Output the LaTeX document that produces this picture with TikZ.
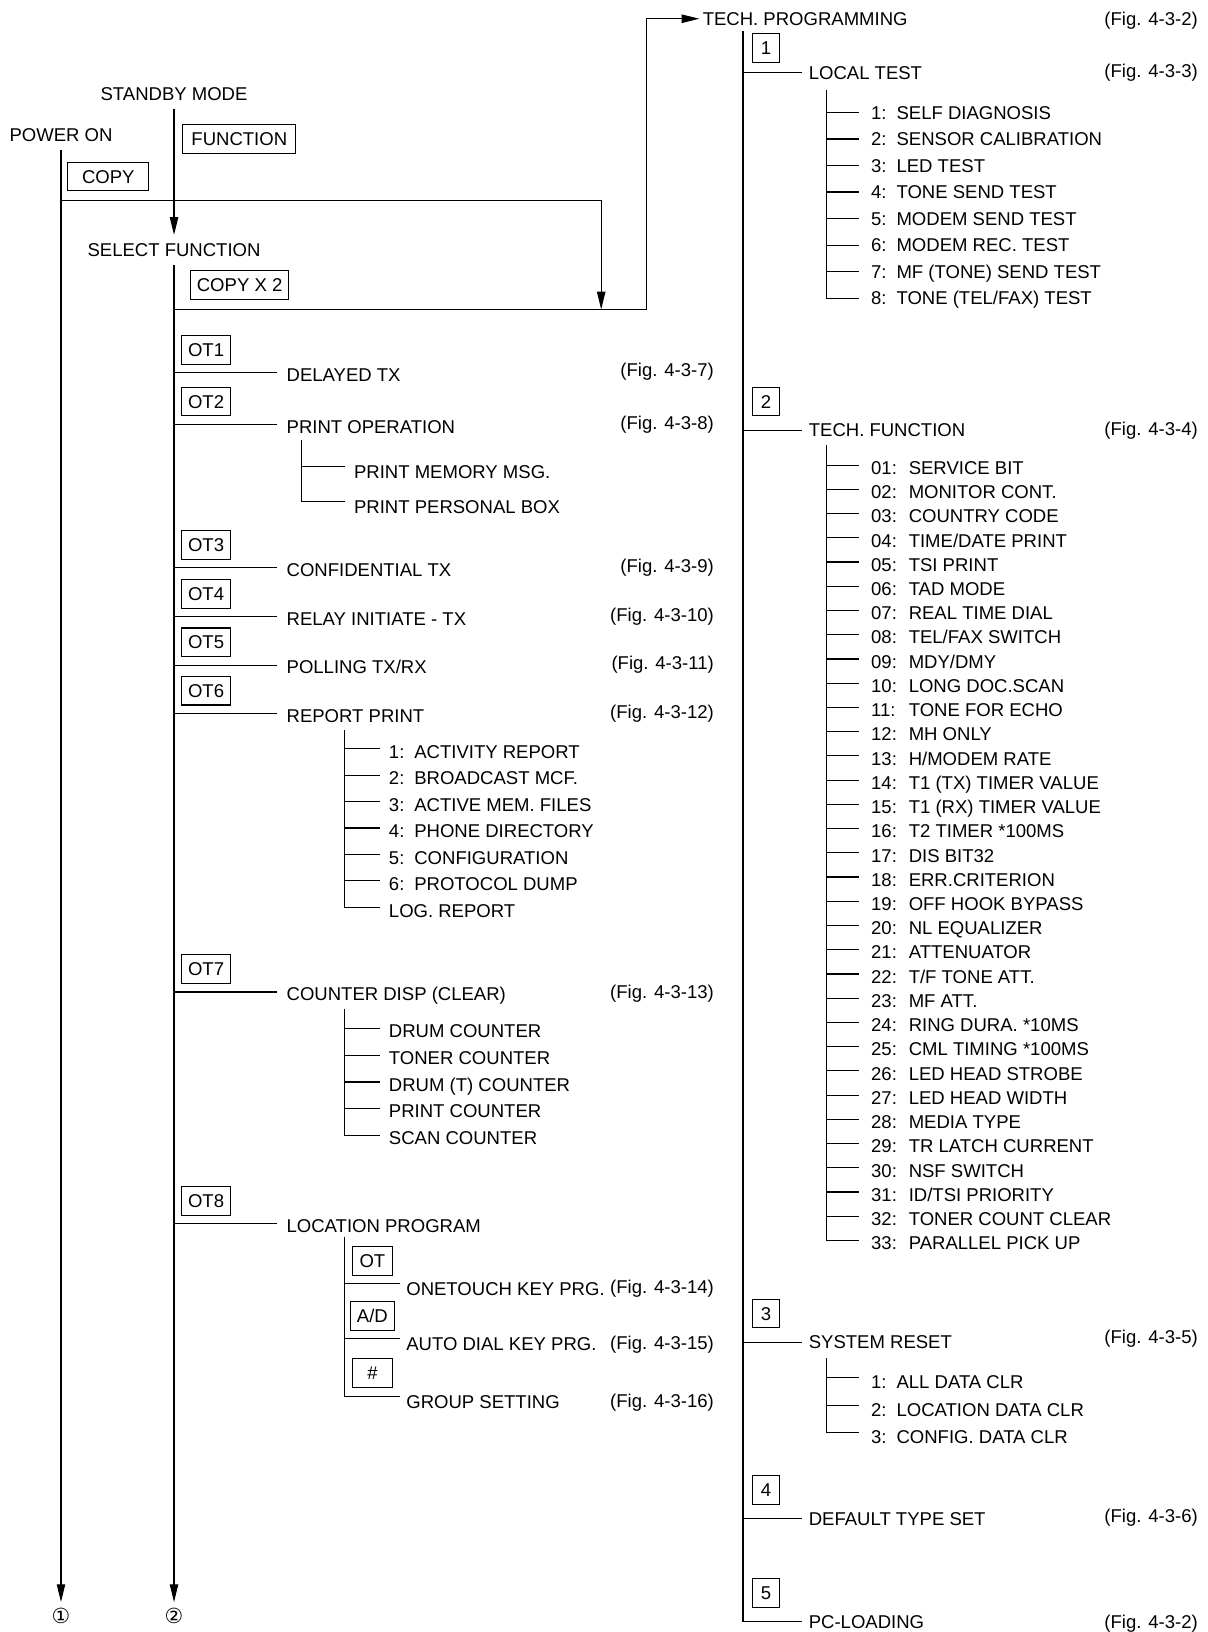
\documentclass[tikz,border=0pt]{standalone}
\usepackage{fontspec}
\setmainfont{Liberation Sans}
\newfontfamily\circfont{DejaVu Sans}
\usetikzlibrary{arrows.meta}

\newcommand{\itemno}[1]{\makebox[1.37em][l]{#1:}}

\tikzset{
  wire/.style={line width=1.1pt},
  arr/.style={line width=1.1pt,-{Triangle[length=17pt,width=8pt]}},
  title/.style={inner xsep=0pt,inner ysep=8pt,text height=12.75pt,text depth=0pt},
  keybox/.style={draw,line width=1pt,minimum height=27.5pt,inner xsep=6pt,inner ysep=0pt,text height=12.75pt,text depth=0pt},
  lbl/.style={anchor=west,inner ysep=0pt,text height=12.75pt,text depth=0pt,inner xsep=#1},
  lbl/.default=6pt,
  leaf/.style={anchor=west,inner ysep=0pt,text height=18pt,text depth=0pt,inner xsep=#1},
  leaf/.default=10pt,
  figref/.style={anchor=east,inner sep=0pt,text height=12.75pt,text depth=0pt},
  endmark/.style={inner sep=0pt,minimum height=26pt,font=\circfont\fontsize{20pt}{20pt}\selectfont},
}

\begin{document}
\begin{tikzpicture}[x=1pt,y=-1pt,font=\fontsize{17.8pt}{20pt}\selectfont]
\useasboundingbox (0,0) rectangle (1160,1568);

% start keys
\node[title] (pwr) at (58.6,129.7) {POWER ON};
\node[title] (stby) at (167.2,90) {STANDBY MODE};
\node[keybox,minimum width=78pt] (copy) at (104.1,169.5) {COPY};
\node[keybox,minimum width=108.6pt] (func) at (229.9,133.6) {FUNCTION};
\node[title] (sel) at (167.2,240.3) {SELECT FUNCTION};
\node[keybox] (copytwo) at (230.2,273.6) {COPY X 2};
\node[endmark] (end1) at (58.6,1552.4) {①};
\node[endmark] (end2) at (167.2,1552.4) {②};
\node[lbl=3pt] (tech) at (672,18) {TECH. PROGRAMMING};
\coordinate (j1) at (58.6,192.9);
\coordinate (j2) at (167.2,297.3);
\coordinate (hit) at (577.6,297.3);
\coordinate (turn) at (620.9,18);

\draw[arr] (pwr) -- (end1);
\draw[arr] (stby) -- (sel);
\draw[arr] (sel) -- (end2);
\draw[arr] (j1) -| (hit);
\draw[arr] (j2) -| (turn) -- (tech);

% technical menu
\coordinate (rbus) at (713.8,30);
\foreach \nm/\y/\d/\txt [count=\i] in {lt/70/24/LOCAL TEST, tf/413.3/27.5/TECH. FUNCTION, sr/1289.5/27.5/SYSTEM RESET, dts/1459.3/27.5/DEFAULT TYPE SET, pcl/1558/27.5/PC-LOADING}{
  \node[lbl=6.4pt] (\nm) at (770.5,\y) {\txt};
  \node[keybox,minimum width=26pt] (key\i) at (736,\y-\d) {\i};
  \draw[wire] (rbus |- \nm.west) -- (\nm.west);
}
\draw[wire] (rbus) -- (rbus |- pcl.west);
\foreach \y/\f [count=\i] in {18/2, 68/3, 412.4/4, 1284/5, 1456/6, 1558/2}
  \node[figref] (rfig\i) at (1151,\y) {(Fig. 4-3-\f)};

\coordinate (ltbus) at (793.8,86.5);
\foreach \txt [count=\i] in {SELF DIAGNOSIS, SENSOR CALIBRATION, LED TEST, TONE SEND TEST, MODEM SEND TEST, MODEM REC. TEST, MF (TONE) SEND TEST, {TONE (TEL/FAX) TEST}}{
  \node[leaf=11.9pt,text height=12.75pt] (lt\i) at (824.9,82.5+25.5*\i) {\itemno{\i}\txt};
  \draw[wire] (ltbus |- lt\i.west) -- (lt\i.west);
}
\draw[wire] (ltbus) -- (ltbus |- lt8.west);

\coordinate (tfbus) at (793.8,427.7);
\foreach \txt [count=\i] in {SERVICE BIT, MONITOR CONT., COUNTRY CODE, {TIME/DATE PRINT}, TSI PRINT, TAD MODE, REAL TIME DIAL, {TEL/FAX SWITCH}, {MDY/DMY}, LONG DOC.SCAN, TONE FOR ECHO, MH ONLY, {H/MODEM RATE}, T1 (TX) TIMER VALUE, T1 (RX) TIMER VALUE, T2 TIMER *100MS, DIS BIT32, ERR.CRITERION, OFF HOOK BYPASS, NL EQUALIZER, ATTENUATOR, {T/F TONE ATT.}, MF ATT., RING DURA. *10MS, CML TIMING *100MS, LED HEAD STROBE, LED HEAD WIDTH, MEDIA TYPE, TR LATCH CURRENT, NSF SWITCH, {ID/TSI PRIORITY}, TONER COUNT CLEAR, PARALLEL PICK UP}{
  \node[leaf=11.9pt,text height=17.75pt] (tf\i) at (824.9,423.62+23.28*\i) {\makebox[2.03em][l]{\ifnum\i<10 0\fi\i:}\txt};
  \draw[wire] (tfbus |- tf\i.west) -- (tf\i.west);
}
\draw[wire] (tfbus) -- (tfbus |- tf33.west);

\coordinate (srbus) at (793.8,1304.8);
\foreach \txt [count=\i] in {ALL DATA CLR, LOCATION DATA CLR, CONFIG. DATA CLR}{
  \node[leaf=11.9pt,text height=21pt] (srl\i) at (824.9,1297.4+26.3*\i) {\itemno{\i}\txt};
  \draw[wire] (srbus |- srl\i.west) -- (srl\i.west);
}
\draw[wire] (srbus) -- (srbus |- srl3.west);

% function menu
\foreach \nm/\y/\txt [count=\i] in {dtx/358.2/DELAYED TX, pop/407.8/PRINT OPERATION, ctx/545.6/CONFIDENTIAL TX, rtx/592.7/RELAY INITIATE - TX, pol/639.1/{POLLING TX/RX}, rpt/685.6/REPORT PRINT, cnt/953.1/COUNTER DISP (CLEAR), loc/1175.7/LOCATION PROGRAM}{
  \node[lbl=9.3pt,text height=16.75pt] (\nm) at (265.9,\y) {\txt};
  \node[keybox,minimum width=44pt] (ot\i) at (198,\y-22) {OT\i};
  \draw[wire] (sel.south |- \nm.west) -- (\nm.west);
}
\foreach \y/\f [count=\i] in {355.6/7, 406/8, 543.6/9, 590.7/10, 637.1/11, 683.6/12, 953.1/13, 1236/14, 1290/15, 1346/16}
  \node[figref] (mfig\i) at (686,\y) {(Fig. 4-3-\f)};

\coordinate (popbus) at (289.3,422.9);
\foreach \txt/\y [count=\i] in {PRINT MEMORY MSG./447.9, PRINT PERSONAL BOX/482.1}{
  \node[leaf=8.5pt,text height=22.75pt] (pm\i) at (331.5,\y) {\txt};
  \draw[wire] (popbus |- pm\i.west) -- (pm\i.west);
}
\draw[wire] (popbus) -- (popbus |- pm2.west);

\coordinate (rpbus) at (330.6,701.6);
\foreach \txt [count=\i] in {{\itemno{1}ACTIVITY REPORT}, {\itemno{2}BROADCAST MCF.}, {\itemno{3}ACTIVE MEM. FILES}, {\itemno{4}PHONE DIRECTORY}, {\itemno{5}CONFIGURATION}, {\itemno{6}PROTOCOL DUMP}, {LOG. REPORT}}{
  \node[leaf=8.7pt,text height=18.75pt] (rp\i) at (364.8,693.9+25.4*\i) {\txt};
  \draw[wire] (rpbus |- rp\i.west) -- (rp\i.west);
}
\draw[wire] (rpbus) -- (rpbus |- rp7.west);

\coordinate (cnbus) at (330.6,969.1);
\foreach \txt [count=\i] in {DRUM COUNTER, TONER COUNTER, DRUM (T) COUNTER, PRINT COUNTER, SCAN COUNTER}{
  \node[leaf=8.7pt,text height=17.5pt] (cn\i) at (364.8,962.7+25.6*\i) {\txt};
  \draw[wire] (cnbus |- cn\i.west) -- (cn\i.west);
}
\draw[wire] (cnbus) -- (cnbus |- cn5.west);

\coordinate (lcbus) at (330.6,1188.6);
\foreach \kname/\y/\txt [count=\i] in {OT/1233.4/ONETOUCH KEY PRG., {A/D}/1286.2/AUTO DIAL KEY PRG., \#/1341.4/GROUP SETTING}{
  \node[leaf=5.8pt,text height=22.75pt] (lc\i) at (384.4,\y) {\txt};
  \node[keybox,minimum width=38pt] (lk\i) at (357.8,\y-22) {\kname};
  \draw[wire] (lcbus |- lc\i.west) -- (lc\i.west);
}
\draw[wire] (lcbus) -- (lcbus |- lc3.west);
\end{tikzpicture}
\end{document}
